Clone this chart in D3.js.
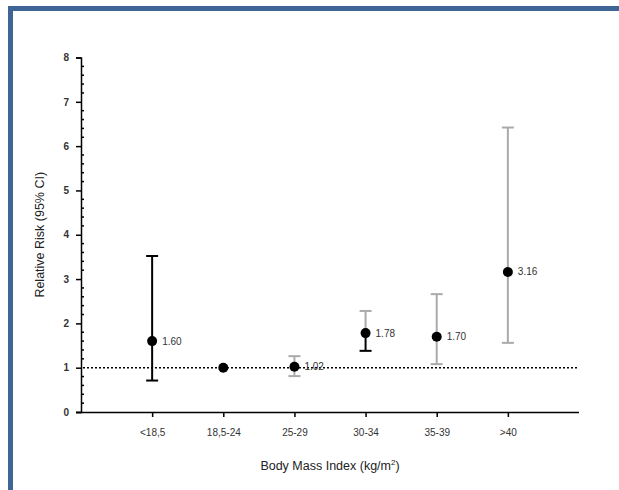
<!DOCTYPE html>
<html>
<head>
<meta charset="utf-8">
<script src="https://cdnjs.cloudflare.com/ajax/libs/d3/7.8.5/d3.min.js"></script>
<style>
  body { margin: 0; background: #fff; }
  text { font-family: "Liberation Sans", Arial, sans-serif; }
</style>
</head>
<body>
<script>
// data
const categories = ['<18,5', '18,5-24', '25-29', '30-34', '35-39', '>40']
const riskValues = [1.60, 1.00, 1.02, 1.78, 1.70, 3.16]
const ciLower = [0.71, null, 0.81, 1.38, 1.08, 1.56]
const ciUpper = [3.52, null, 1.26, 2.28, 2.66, 6.42]
const pointLabels = ['1.60', '', '1.02', '1.78', '1.70', '3.16']
const yTicks = [0, 1, 2, 3, 4, 5, 6, 7, 8]

const W = 619, H = 490
const svg = d3.select('body').append('svg').attr('width', W).attr('height', H)

// blauwe kader
svg.append('path')
  .attr('d', `M10.5,${H} L10.5,8.5 L${W},8.5`)
  .attr('fill', 'none').attr('stroke', '#3e6596').attr('stroke-width', 5)

const x = d3.scaleLinear().domain([0, 7]).range([81, 579])
const y = d3.scaleLinear().domain([0, 8]).range([412, 57.5])

const data = categories.map((c, i) => ({
  cat: c, i: i + 1, v: riskValues[i], lo: ciLower[i], hi: ciUpper[i], label: pointLabels[i]
}))

// y as
const gy = svg.append('g').attr('transform', `translate(${x(0)},0)`)
gy.call(d3.axisLeft(y).tickValues(yTicks).tickSize(5).tickPadding(7).tickFormat(d3.format('d')))
gy.select('.domain').attr('stroke-width', 1.5)
gy.selectAll('.tick line').attr('stroke-width', 1.5)
gy.selectAll('.tick text').attr('font-size', 10).attr('font-weight', 'bold').attr('fill', '#333')

// kleine streepjes
const minor = d3.range(0, 8.001, 0.2).filter(d => Math.abs(d - Math.round(d)) > 0.01)
gy.selectAll('.minor').data(minor).join('line')
  .attr('x1', 0).attr('x2', 3)
  .attr('y1', d => y(d)).attr('y2', d => y(d))
  .attr('stroke', '#000').attr('stroke-width', 1.5)

// x as
const gx = svg.append('g').attr('transform', `translate(0,${y(0)})`)
gx.call(d3.axisBottom(x).tickValues(data.map(d => d.i)).tickSize(5).tickPadding(12)
  .tickFormat((d, i) => categories[i]))
gx.select('.domain').attr('stroke-width', 1.5).attr('d', `M${x(0) - 5},0.5H${x(7)}`)
gx.selectAll('.tick line').attr('stroke-width', 1.5)
gx.selectAll('.tick text').attr('font-size', 10).attr('fill', '#333')

// stippellijn bij 1
svg.append('line')
  .attr('x1', x(0) + 2).attr('x2', x(7))
  .attr('y1', y(1)).attr('y2', y(1))
  .attr('stroke', '#000').attr('stroke-width', 1.5).attr('stroke-dasharray', '2,2')

// foutbalken
const cap = 6
const ci = data.filter(d => d.lo != null)
const colorOf = d => (d.i === 1 ? '#000' : '#aaa')

const eb = svg.append('g')
ci.forEach(d => {
  const cx = x(d.i)
  const upColor = colorOf(d)
  const loColor = d.i === 4 ? '#000' : colorOf(d)
  eb.append('line').attr('x1', cx).attr('x2', cx).attr('y1', y(d.hi)).attr('y2', y(d.v))
    .attr('stroke', upColor).attr('stroke-width', 2)
  eb.append('line').attr('x1', cx).attr('x2', cx).attr('y1', y(d.v)).attr('y2', y(d.lo))
    .attr('stroke', loColor).attr('stroke-width', 2)
  eb.append('line').attr('x1', cx - cap).attr('x2', cx + cap).attr('y1', y(d.hi)).attr('y2', y(d.hi))
    .attr('stroke', upColor).attr('stroke-width', 2)
  eb.append('line').attr('x1', cx - cap).attr('x2', cx + cap).attr('y1', y(d.lo)).attr('y2', y(d.lo))
    .attr('stroke', loColor).attr('stroke-width', 2)
})

// punten
svg.selectAll('circle.pt').data(data).join('circle')
  .attr('class', 'pt')
  .attr('cx', d => x(d.i)).attr('cy', d => y(d.v)).attr('r', 5)
  .attr('fill', '#000')

svg.selectAll('text.lbl').data(data.filter(d => d.label)).join('text')
  .attr('class', 'lbl')
  .attr('x', d => x(d.i) + 10).attr('y', d => y(d.v) + 3.5)
  .attr('font-size', 10).attr('fill', '#333')
  .text(d => d.label)

// as titels
svg.append('text')
  .attr('transform', `translate(44,${y(4)}) rotate(-90)`)
  .attr('text-anchor', 'middle').attr('font-size', 12.5).attr('fill', '#222')
  .text('Relative Risk (95% CI)')

const xt = svg.append('text')
  .attr('x', 330).attr('y', 470)
  .attr('text-anchor', 'middle').attr('font-size', 12.5).attr('fill', '#222')
xt.append('tspan').text('Body Mass Index (kg/m')
xt.append('tspan').attr('font-size', 8).attr('dy', -5).text('2')
xt.append('tspan').attr('dy', 5).text(')')
</script>
</body>
</html>
